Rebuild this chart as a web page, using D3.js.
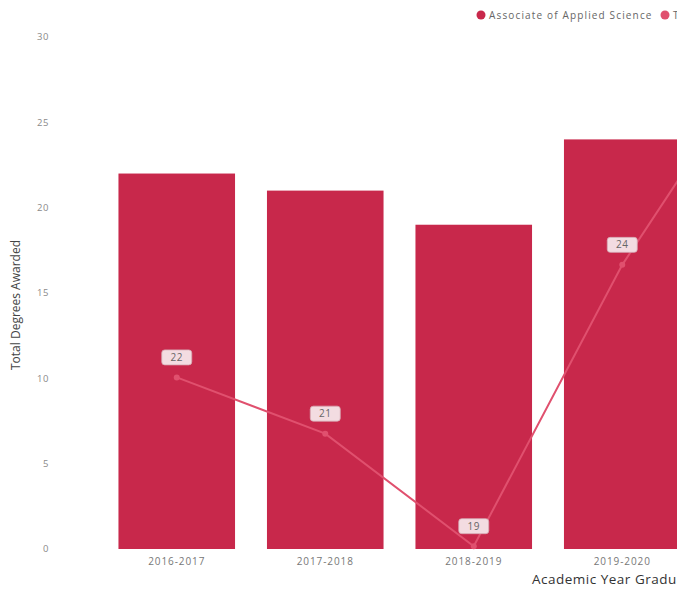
<!DOCTYPE html>
<html>
<head>
<meta charset="utf-8">
<script src="https://cdn.jsdelivr.net/npm/d3@7"></script>
<style>
  html, body { margin: 0; padding: 0; background: #fff; overflow: hidden; }
  text { font-family: "Open Sans", Lato, sans-serif; }
</style>
</head>
<body>
<svg id="chart"></svg>
<script>
// chart data
const years = ["2016-2017", "2017-2018", "2018-2019", "2019-2020", "2020-2021"];
const degrees = [22, 21, 19, 24, 28];       // bars (Associate of Applied Science)
const totals = [22, 21, 19, 24, 28];        // line, on its own (hidden) right axis
const yTicks = [0, 5, 10, 15, 20, 25, 30];
const seriesNames = ["Associate of Applied Science", "Total Degrees Awarded"];

const width = 677, height = 589;
const barColor = "#c8284b", lineColor = "#e0506e";

const svg = d3.select("#chart")
    .attr("width", width)
    .attr("height", height);

let x = d3.scaleBand()
    .domain(years)
    .range([102.5, 102.5 + 148.5 * years.length])
    .paddingInner(0.215)
    .paddingOuter(0.1075);

let y = d3.scaleLinear()
    .domain([0, 30])
    .range([549, 37]);

let y2 = d3.scaleLinear()
    .domain([18.95, 28.05])
    .range([549, 37]);

// y axis labels
svg.append("g")
    .selectAll("text")
    .data(yTicks)
    .enter().append("text")
    .attr("x", 49)
    .attr("y", d => y(d))
    .attr("dy", ".35em")
    .attr("text-anchor", "end")
    .attr("font-size", 9.5)
    .attr("letter-spacing", 0.6)
    .attr("fill", "#8a8a8a")
    .text(d => d);

svg.append("text")
    .attr("transform", "translate(20,305) rotate(-90)")
    .attr("text-anchor", "middle")
    .attr("font-family", "Lato, sans-serif")
    .attr("font-size", 12)
    .attr("fill", "#444")
    .text("Total Degrees Awarded");

// bars
svg.append("g")
    .selectAll("rect")
    .data(degrees)
    .enter().append("rect")
    .attr("x", (d, i) => x(years[i]))
    .attr("y", d => y(d))
    .attr("width", x.bandwidth())
    .attr("height", d => y(0) - y(d))
    .attr("fill", barColor);

// x axis labels
svg.append("g")
    .selectAll("text")
    .data(years)
    .enter().append("text")
    .attr("x", d => x(d) + x.bandwidth() / 2)
    .attr("y", 565)
    .attr("text-anchor", "middle")
    .attr("font-size", 10)
    .attr("letter-spacing", 0.9)
    .attr("fill", "#777")
    .text(d => d);

svg.append("text")
    .attr("x", 532)
    .attr("y", 584)
    .attr("font-size", 13.5)
    .attr("font-weight", 500)
    .attr("letter-spacing", 0.5)
    .attr("fill", "#333")
    .text("Academic Year Graduated");

// line series
const line = d3.line()
    .x((d, i) => x(years[i]) + x.bandwidth() / 2)
    .y(d => y2(d));

svg.append("path")
    .datum(totals)
    .attr("d", line)
    .attr("fill", "none")
    .attr("stroke", lineColor)
    .attr("stroke-width", 2);

svg.append("g")
    .selectAll("circle")
    .data(totals)
    .enter().append("circle")
    .attr("cx", (d, i) => x(years[i]) + x.bandwidth() / 2)
    .attr("cy", d => y2(d))
    .attr("r", 3)
    .attr("fill", lineColor);

// value labels above the points
let label = svg.append("g")
    .selectAll("g")
    .data(totals)
    .enter().append("g")
    .attr("transform", (d, i) => "translate(" + (x(years[i]) + x.bandwidth() / 2) + "," + (y2(d) - 20) + ")");
label.append("rect")
    .attr("x", -15)
    .attr("y", -7.5)
    .attr("width", 30)
    .attr("height", 15)
    .attr("rx", 3)
    .attr("fill", "#f3dce1")
    .attr("stroke", "#d6aab4")
    .attr("stroke-width", 0.8);
label.append("text")
    .attr("text-anchor", "middle")
    .attr("dy", ".35em")
    .attr("font-size", 10)
    .attr("letter-spacing", 0.5)
    .attr("fill", "#666")
    .text(d => d);

// legend
let legend = svg.append("g")
    .selectAll("g")
    .data(seriesNames)
    .enter().append("g")
    .attr("transform", (d, i) => "translate(" + (481 + i * 184) + ",15)");
legend.append("circle")
    .attr("r", 4.5)
    .attr("fill", (d, i) => i === 0 ? barColor : lineColor);
legend.append("text")
    .attr("x", 8)
    .attr("dy", ".35em")
    .attr("font-size", 10)
    .attr("letter-spacing", 1.15)
    .attr("fill", "#666")
    .text(d => d);
</script>
</body>
</html>
